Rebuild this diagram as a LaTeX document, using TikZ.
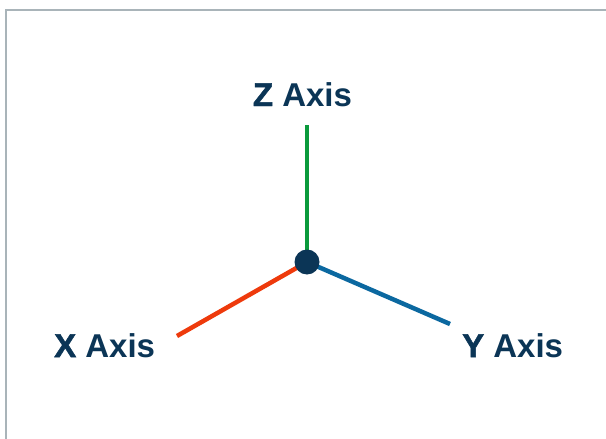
\documentclass[tikz,border=0pt]{standalone}
\usepackage{fontspec}
\setmainfont{Liberation Sans}
\newfontfamily\heavyfont[FakeBold=1.5]{Liberation Sans Bold}
\definecolor{navy}{HTML}{0B3556}
\definecolor{zgreen}{HTML}{0A9A3C}
\definecolor{xred}{HTML}{EE3A0C}
\definecolor{yblue}{HTML}{0B68A0}
\definecolor{frame}{HTML}{A9B4B9}
\tikzset{
  axisline/.style={line width=4.5pt},
  axislabel/.style={text=navy, font=\fontsize{33}{36}\selectfont, inner sep=0pt},
  centerdot/.style={circle, fill=navy, minimum size=25pt, inner sep=0pt},
}
\newcommand{\axlab}[1]{{\heavyfont #1} \textbf{Axis}}
\begin{document}
\begin{tikzpicture}[x=1pt,y=-1pt]
\useasboundingbox (0,0) rectangle (606,439);
\fill[white] (0,0) rectangle (606,439);
\draw[frame, line width=2pt] (5.5,440) -- (5.5,9.5) -- (607,9.5);
\coordinate (c) at (307,262);
\coordinate (zend) at (307,125);
\coordinate (xend) at (177,336);
\coordinate (yend) at (450,324);
\draw[axisline, zgreen] (c) -- (zend);
\draw[axisline, xred] (c) -- (xend);
\draw[axisline, yblue] (c) -- (yend);
\node[centerdot] (O) at (c) {};
\node[axislabel, anchor=base] (zlab) at (302.5,106) {\axlab{Z}};
\node[axislabel, anchor=base west] (xlab) at (54,357) {\axlab{X}};
\node[axislabel, anchor=base west] (ylab) at (462,357) {\axlab{Y}};
\end{tikzpicture}
\end{document}
